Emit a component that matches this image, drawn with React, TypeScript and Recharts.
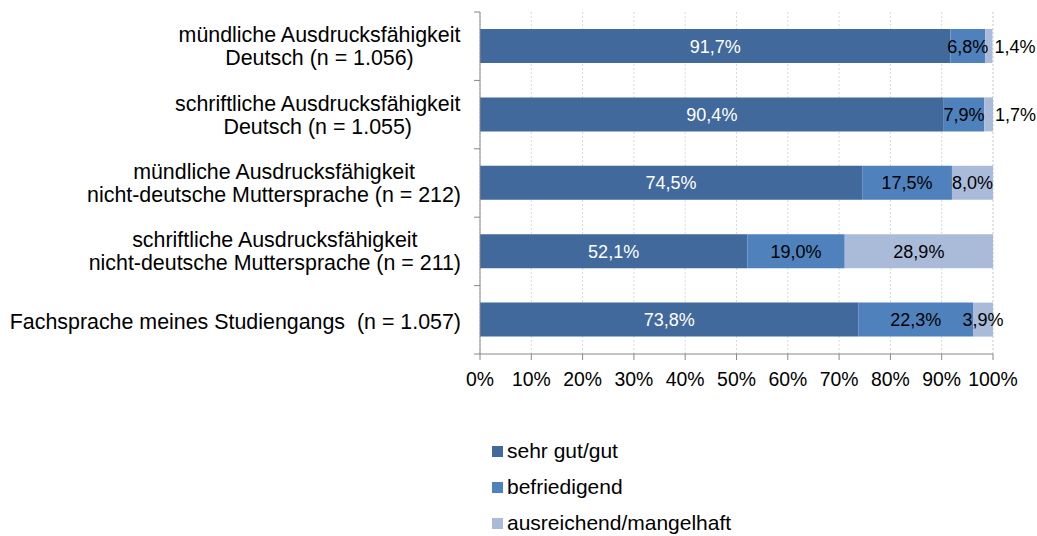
import React from 'react';
import { BarChart, Bar, XAxis, YAxis, CartesianGrid, LabelList } from 'recharts';

const categories = [
  'mündliche Ausdrucksfähigkeit\nDeutsch (n = 1.056)',
  'schriftliche Ausdrucksfähigkeit\nDeutsch (n = 1.055)',
  'mündliche Ausdrucksfähigkeit\nnicht-deutsche Muttersprache (n = 212)',
  'schriftliche Ausdrucksfähigkeit\nnicht-deutsche Muttersprache (n = 211)',
  'Fachsprache meines Studiengangs  (n = 1.057)',
];
const sehrGut = [91.7, 90.4, 74.5, 52.1, 73.8];
const befriedigend = [6.8, 7.9, 17.5, 19.0, 22.3];
const ausreichend = [1.4, 1.7, 8.0, 28.9, 3.9];
const xTicks = [0, 10, 20, 30, 40, 50, 60, 70, 80, 90, 100];

const seriesNames = ['sehr gut/gut', 'befriedigend', 'ausreichend/mangelhaft'];
const colors = ['#41699B', '#4F81BD', '#AABBDA'];

const data = categories.map((c, i) => ({
  name: c,
  s1: sehrGut[i],
  s2: befriedigend[i],
  s3: ausreichend[i],
}));

const FONT = '"Liberation Sans", Arial, sans-serif';
const CAT_FS = 21.4;
const fmt = (v: number) => v.toFixed(1).replace('.', ',') + '%';

const PLOT_TOP = 12;
const PLOT_H = 342;
const BAND = PLOT_H / categories.length;

let ctx: CanvasRenderingContext2D | null = null;
const measure = (s: string) => {
  if (typeof document === 'undefined') return s.length * CAT_FS * 0.5;
  if (!ctx) ctx = document.createElement('canvas').getContext('2d');
  if (!ctx) return s.length * CAT_FS * 0.5;
  ctx.font = `${CAT_FS}px "Liberation Sans"`;
  return ctx.measureText(s).width;
};

const CatTick = (props: any) => {
  const { x, y, payload, index } = props;
  const lines = String(payload.value).split('\n');
  const axisX = x + 8;
  const right = axisX - 19;
  const maxW = Math.max(...lines.map(measure));
  const cx = right - maxW / 2;
  return (
    <g>
      <line x1={axisX - 6} x2={axisX} y1={y - BAND / 2} y2={y - BAND / 2} stroke="#888" />
      {index === categories.length - 1 && (
        <line x1={axisX - 6} x2={axisX} y1={y + BAND / 2} y2={y + BAND / 2} stroke="#888" />
      )}
      {lines.map((l, i) => (
        <text
          key={i}
          x={cx}
          y={lines.length === 1 ? y + 9 : y - 4 + i * 23}
          textAnchor="middle"
          fontFamily={FONT}
          fontSize={CAT_FS}
          fill="#000"
          style={{ whiteSpace: 'pre' }}
          xmlSpace="preserve"
        >
          {l}
        </text>
      ))}
    </g>
  );
};

const makeLabel = (fill: string, outsideSmall: boolean) => (props: any) => {
  const { x, y, width, height, value } = props;
  const small = outsideSmall && value < 2;
  const tx = small ? x + width + 2 : x + width / 2;
  return (
    <text
      x={tx}
      y={y + height / 2 + 6.5}
      textAnchor={small ? 'start' : 'middle'}
      fontFamily={FONT}
      fontSize={18}
      fill={fill}
    >
      {fmt(value)}
    </text>
  );
};

export default function App() {
  return (
    <div style={{ position: 'absolute', left: 0, top: 0, width: 1037, height: 536, background: '#fff' }}>
      <BarChart
        width={1037}
        height={536}
        data={data}
        layout="vertical"
        margin={{ top: PLOT_TOP, right: 44, bottom: 0, left: 0 }}
        barSize={34}
      >
        <CartesianGrid horizontal={false} stroke="#D9D9D9" strokeDasharray="2 2" />
        <XAxis
          type="number"
          domain={[0, 100]}
          ticks={xTicks}
          interval={0}
          tickFormatter={(v: number) => v + '%'}
          tick={{ fontFamily: FONT, fontSize: 19.4, fill: '#000' }}
          tickLine={{ stroke: '#888' }}
          axisLine={{ stroke: '#888' }}
          tickSize={6}
          tickMargin={12}
          height={536 - PLOT_TOP - PLOT_H}
        />
        <YAxis
          type="category"
          dataKey="name"
          width={480}
          tick={<CatTick />}
          tickLine={false}
          axisLine={{ stroke: '#888' }}
          interval={0}
        />
        <Bar dataKey="s1" stackId="a" fill={colors[0]} isAnimationActive={false}>
          <LabelList dataKey="s1" content={makeLabel('#fff', false)} />
        </Bar>
        <Bar dataKey="s2" stackId="a" fill={colors[1]} isAnimationActive={false}>
          <LabelList dataKey="s2" content={makeLabel('#000', false)} />
        </Bar>
        <Bar dataKey="s3" stackId="a" fill={colors[2]} isAnimationActive={false}>
          <LabelList dataKey="s3" content={makeLabel('#000', true)} />
        </Bar>
      </BarChart>
      <div style={{ position: 'absolute', left: 492, top: 433, fontFamily: FONT, fontSize: 21, color: '#000' }}>
        {seriesNames.map((n, i) => (
          <div key={n} style={{ display: 'flex', alignItems: 'center', height: 36, lineHeight: '36px' }}>
            <span style={{ display: 'inline-block', width: 11, height: 11, background: colors[i], marginRight: 4 }} />
            <span>{n}</span>
          </div>
        ))}
      </div>
    </div>
  );
}
